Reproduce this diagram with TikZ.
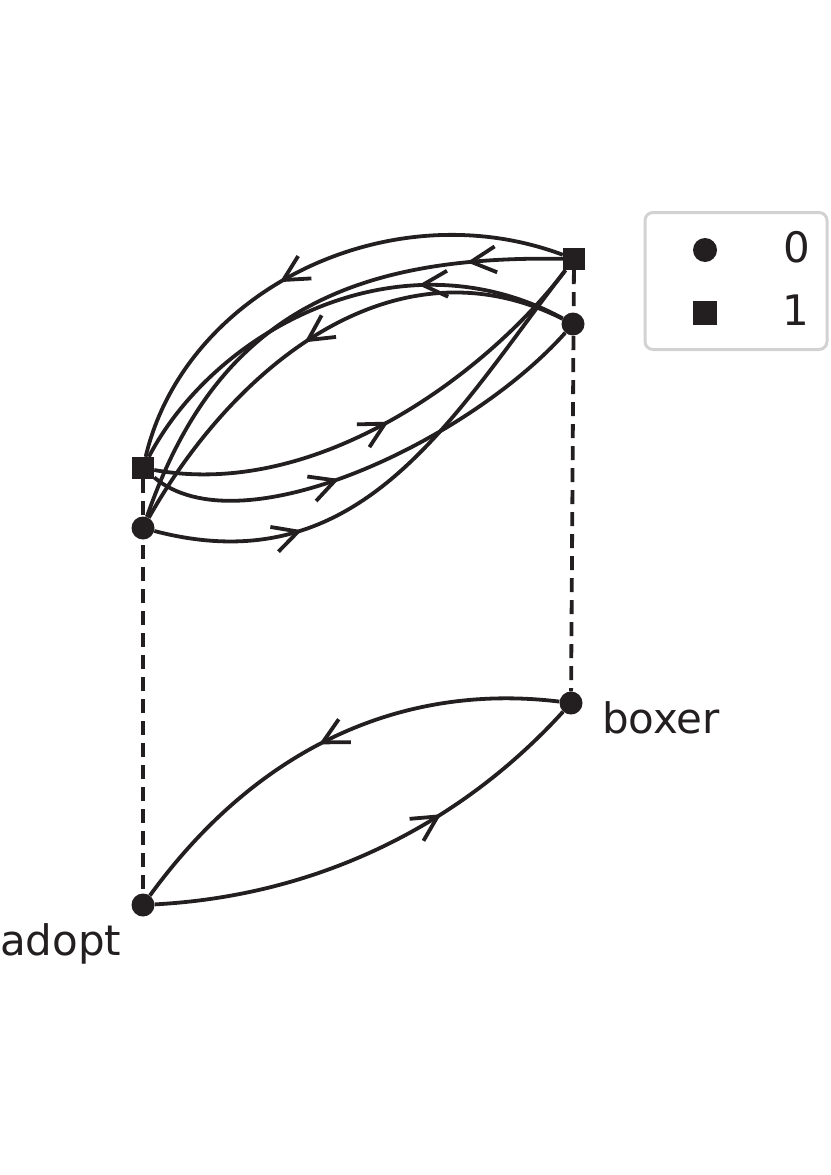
\documentclass[tikz,border=0pt]{standalone}
\usepackage{fontspec}
\setmainfont{DejaVu Sans}
\usetikzlibrary{arrows.meta,decorations.markings}
\pgfdeclarelayer{background}
\pgfsetlayers{background,main}
\definecolor{ink}{RGB}{35,31,32}
\definecolor{frame}{RGB}{210,210,210}
\tikzset{
  circ/.style={circle,fill=ink,inner sep=0pt,minimum size=23pt},
  sq/.style={rectangle,fill=ink,inner sep=0pt,minimum size=22pt},
  edge/.style={draw=ink,line width=3.8pt},
  vlink/.style={draw=ink,line width=3.8pt,dash pattern=on 14pt off 8pt},
  midarrow/.style={postaction={decorate},decoration={markings,
    mark=at position #1 with {\arrow[ink,line width=3.8pt]{Straight Barb[length=25pt,width=26pt]}}}},
  lab/.style={font=\fontsize{42pt}{50pt}\selectfont,text=ink,inner sep=0pt},
}
\begin{document}
\begin{tikzpicture}[x=1pt,y=-1pt]
\useasboundingbox (0,0) rectangle (830,1175);
% nodes
\node[sq]   (sl) at (143,468) {};
\node[circ] (cl) at (143,528) {};
\node[sq]   (sr) at (574,259) {};
\node[circ] (cr) at (573,324) {};
\node[circ] (adopt) at (143,905) {};
\node[circ] (boxer) at (571,703) {};
\node[lab,anchor=base west] (adoptlab) at (0,955) {adopt};
\node[lab,anchor=base west] (boxerlab) at (602,733) {boxer};
% legend
\node[draw=frame,line width=3pt,rounded corners=8pt,minimum width=182pt,minimum height=137pt,inner sep=0pt] (legend) at (736,281) {};
\node[circ,minimum size=24pt] (lg0) at (705,250) {};
\node[sq,minimum size=24pt] (lg1) at (705,313) {};
\node[lab,anchor=base] (lt0) at (797,262) {0};
\node[lab,anchor=base] (lt1) at (796,325) {1};
\begin{pgfonlayer}{background}
% dashed links
\draw[vlink] (sl) -- (adopt);
\draw[vlink] (sr) -- (boxer);
% bottom edges
\draw[edge,midarrow=0.655] (adopt) .. controls (314,896) and (457,828) .. (boxer);
\draw[edge,midarrow=0.52] (boxer) .. controls (398,682) and (255,751) .. (adopt);
% top edges, right to left
\draw[edge,midarrow=0.565] (sr) .. controls (390,190) and (185,290) .. (sl);
\draw[edge,midarrow=0.18] (sr) .. controls (343,255) and (215,320) .. (cl);
\draw[edge,midarrow=0.31] (cr) .. controls (400,230) and (215,330) .. (sl);
\draw[edge,midarrow=0.535] (cr) .. controls (395,235) and (235,365) .. (cl);
% top edges, left to right
\draw[edge,midarrow=0.51] (sl) .. controls (320,500) and (490,370) .. (sr);
\draw[edge,midarrow=0.415] (sl) .. controls (240,550) and (470,440) .. (cr);
\draw[edge,midarrow=0.285] (cl) .. controls (360,585) and (450,420) .. (sr);
\end{pgfonlayer}
\end{tikzpicture}
\end{document}
